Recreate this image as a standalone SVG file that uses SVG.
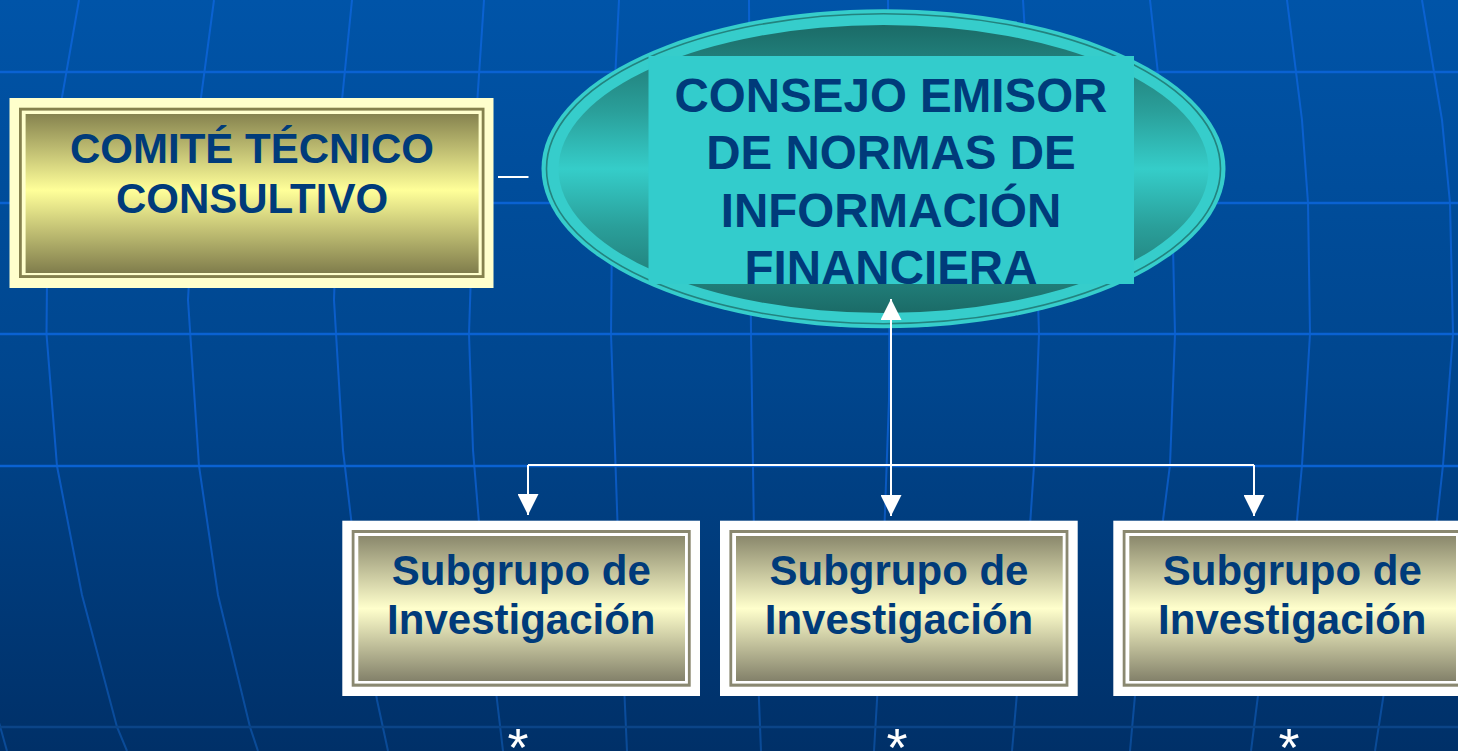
<svg xmlns="http://www.w3.org/2000/svg" width="1458" height="751" viewBox="0 0 1458 751">
<defs>
  <linearGradient id="bg" x1="0" y1="0" x2="0" y2="1">
    <stop offset="0" stop-color="#0054A8"/>
    <stop offset="0.5" stop-color="#00468E"/>
    <stop offset="1" stop-color="#003068"/>
  </linearGradient>
  <linearGradient id="gridV" gradientUnits="userSpaceOnUse" x1="0" y1="0" x2="0" y2="751">
    <stop offset="0" stop-color="#0A62D2"/>
    <stop offset="0.6" stop-color="#0A5BC6"/>
    <stop offset="1" stop-color="#0A4A96"/>
  </linearGradient>
  <linearGradient id="olive" x1="0" y1="0" x2="0" y2="1">
    <stop offset="0" stop-color="#86834F"/>
    <stop offset="0.48" stop-color="#FFFF99"/>
    <stop offset="1" stop-color="#807D4C"/>
  </linearGradient>
  <linearGradient id="sand" x1="0" y1="0" x2="0" y2="1">
    <stop offset="0" stop-color="#8A886C"/>
    <stop offset="0.5" stop-color="#FFFFCC"/>
    <stop offset="1" stop-color="#83816A"/>
  </linearGradient>
  <linearGradient id="teal" x1="0" y1="0" x2="0" y2="1">
    <stop offset="0" stop-color="#1B6B67"/>
    <stop offset="0.3" stop-color="#2A9F9A"/>
    <stop offset="0.5" stop-color="#35CDC9"/>
    <stop offset="0.7" stop-color="#2A9F9A"/>
    <stop offset="1" stop-color="#1B6B67"/>
  </linearGradient>
  <marker id="arrow" markerUnits="userSpaceOnUse" markerWidth="21" markerHeight="21" viewBox="0 0 21 21" refX="21" refY="10.5" orient="auto">
    <path d="M0,0 L21,10.5 L0,21 Z" fill="#FFFFFF"/>
  </marker>
</defs>
<style>
  .vg{fill:none;stroke:url(#gridV);stroke-width:2}
  .hg{stroke:#0A62D2;stroke-width:2.6}
  .lbl{font-family:"Liberation Sans",Arial,sans-serif;font-weight:bold;fill:#003B7A;text-anchor:middle}
  .conn{stroke:#FFFFFF;stroke-width:2;fill:none}
  .ast{font-family:"Liberation Sans",Arial,sans-serif;fill:#FFFFFF;text-anchor:middle;font-size:54px}
  .sbOuter{fill:#FFFFFF}
  .sbBorder{fill:#8A8870}
  .sbLine{fill:#FFFFFF}
  .sbFill{fill:url(#sand)}
</style>

<g id="background">
  <rect x="0" y="0" width="1458" height="751" fill="url(#bg)"/>
  <g id="grid-vertical">
    <path class="vg" d="M-4,712 L7,751"/>
    <path class="vg" d="M79,0 L58,120 L47,280 L46.5,334 L57,466 L82,595 L117,727 L127,751"/>
    <path class="vg" d="M214,0 L198,120 L188,300 L199,466 L218,595 L250,727 L258,751"/>
    <path class="vg" d="M352,0 L340,120 L334,300 L343,450 L360,595 L377,700 L388,751"/>
    <path class="vg" d="M484,0 L476,120 L469,334 L473,450 L485,595 L497,700 L503,751"/>
    <path class="vg" d="M619,0 L613,120 L611,334 L615,450 L620,595 L627,751"/>
    <path class="vg" d="M749,0 L750,200 L751,334 L755,600 L761,751"/>
    <path class="vg" d="M888,0 L890,200 L889,400 L880,650 L874,751"/>
    <path class="vg" d="M1023,0 L1035,200 L1039,334 L1034,466 L1025,600 L1012,751"/>
    <path class="vg" d="M1150,0 L1163,120 L1172,203 L1175,334 L1170,465 L1163,520 L1140,640 L1130,751"/>
    <path class="vg" d="M1287,0 L1302,120 L1308,203 L1310,334 L1302,465 L1297,520 L1265,640 L1251,751"/>
    <path class="vg" d="M1422,0 L1442,120 L1450,203 L1453,334 L1443,465 L1437,520 L1392,640 L1375,751"/>
  </g>
  <g id="grid-horizontal">
    <line class="hg" x1="0" y1="72" x2="1458" y2="72"/>
    <line class="hg" x1="0" y1="203" x2="1458" y2="203"/>
    <line class="hg" x1="0" y1="334" x2="1458" y2="334"/>
    <line class="hg" x1="0" y1="466" x2="1458" y2="466"/>
    <line class="hg" x1="0" y1="727" x2="1458" y2="727" style="stroke:#0B4487"/>
  </g>
</g>

<g id="comite">
  <rect x="9.5" y="98" width="484" height="190" fill="#FFFFCC"/>
  <rect x="19" y="107.7" width="465.5" height="170.3" fill="#85814E"/>
  <rect x="21.8" y="110.6" width="459.9" height="164.5" fill="#FFFFCC"/>
  <rect x="25.6" y="114" width="453" height="159" fill="url(#olive)"/>
  <text class="lbl" font-size="42" x="252" y="163">COMITÉ TÉCNICO</text>
  <text class="lbl" font-size="42" x="252" y="213">CONSULTIVO</text>
</g>

<g id="consejo">
  <ellipse cx="883.5" cy="168.7" rx="342" ry="159.5" fill="#36CDCB"/>
  <ellipse cx="883.5" cy="168.7" rx="337" ry="155" fill="none" stroke="#23837F" stroke-width="1.6"/>
  <ellipse cx="883.5" cy="169" rx="325" ry="144" fill="url(#teal)"/>
  <rect x="648.5" y="56" width="485.5" height="228" fill="#33CCCC"/>
  <text class="lbl" font-size="47.5" x="891" y="111.5">CONSEJO EMISOR</text>
  <text class="lbl" font-size="47.5" x="891" y="169">DE NORMAS DE</text>
  <text class="lbl" font-size="47.5" x="891" y="226.5">INFORMACIÓN</text>
  <text class="lbl" font-size="47.5" x="891" y="284">FINANCIERA</text>
</g>

<g id="subgrupo1" transform="translate(342.3,520.7)">
  <rect class="sbOuter" x="0" y="0" width="357.7" height="175.3"/>
  <rect class="sbBorder" x="9.4" y="9.3" width="339" height="156.7"/>
  <rect class="sbLine" x="12.2" y="12.3" width="333.4" height="150.6"/>
  <rect class="sbFill" x="16" y="15.3" width="326.7" height="145"/>
  <text class="lbl" font-size="42" x="179" y="64">Subgrupo de</text>
  <text class="lbl" font-size="42" x="179" y="113.5">Investigación</text>
</g>

<g id="subgrupo2" transform="translate(720,520.7)">
  <rect class="sbOuter" x="0" y="0" width="357.7" height="175.3"/>
  <rect class="sbBorder" x="9.4" y="9.3" width="339" height="156.7"/>
  <rect class="sbLine" x="12.2" y="12.3" width="333.4" height="150.6"/>
  <rect class="sbFill" x="16" y="15.3" width="326.7" height="145"/>
  <text class="lbl" font-size="42" x="179" y="64">Subgrupo de</text>
  <text class="lbl" font-size="42" x="179" y="113.5">Investigación</text>
</g>

<g id="subgrupo3" transform="translate(1113.3,520.7)">
  <rect class="sbOuter" x="0" y="0" width="357.7" height="175.3"/>
  <rect class="sbBorder" x="9.4" y="9.3" width="339" height="156.7"/>
  <rect class="sbLine" x="12.2" y="12.3" width="333.4" height="150.6"/>
  <rect class="sbFill" x="16" y="15.3" width="326.7" height="145"/>
  <text class="lbl" font-size="42" x="179" y="64">Subgrupo de</text>
  <text class="lbl" font-size="42" x="179" y="113.5">Investigación</text>
</g>

<g id="connectors">
  <line class="conn" x1="498" y1="177" x2="528.5" y2="177"/>
  <path class="conn" d="M891,465 V299" marker-end="url(#arrow)"/>
  <path class="conn" d="M528,465 H1254"/>
  <path class="conn" d="M528,465 V515" marker-end="url(#arrow)"/>
  <path class="conn" d="M891,465 V516" marker-end="url(#arrow)"/>
  <path class="conn" d="M1254,465 V516" marker-end="url(#arrow)"/>
</g>

<g id="asterisks">
  <text class="ast" x="518" y="766">*</text>
  <text class="ast" x="897" y="766">*</text>
  <text class="ast" x="1289" y="766">*</text>
</g>
</svg>
